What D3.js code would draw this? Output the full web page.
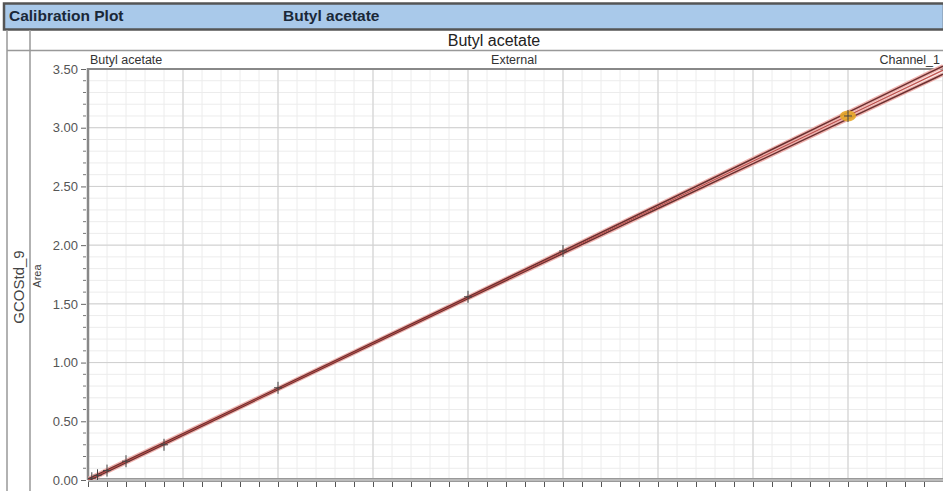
<!DOCTYPE html>
<html><head><meta charset="utf-8">
<script src="https://cdn.jsdelivr.net/npm/d3@7"></script>
<style>body{margin:0;background:#fff;}svg{display:block;font-family:"Liberation Sans",Arial,sans-serif;}</style>
</head><body>
<script>
// ---- data ----
const calX = [0.02, 0.05, 0.1, 0.2, 0.4, 1.0, 2.0, 2.5, 4.0];
const calArea = [0.015, 0.04, 0.08, 0.16, 0.30, 0.785, 1.56, 1.95, 3.10];
const highlightIndex = [8];
const fitX = [0, 4.5];
const fitArea = [0.0, 3.49];
const bandX = [0, 1.0, 2.0, 3.0, 4.0, 4.5];
const bandUpper = [0.008, 0.781, 1.558, 2.342, 3.131, 3.525];
const bandLower = [-0.008, 0.771, 1.546, 2.312, 3.075, 3.455];
const yTicks = [0, 0.5, 1.0, 1.5, 2.0, 2.5, 3.0, 3.5];
const bannerLabels = ["Calibration Plot", "Butyl acetate"];
const plotTitle = "Butyl acetate";
const headerLabels = ["Butyl acetate", "External", "Channel_1"];
const sideLabels = ["GCOStd_9", "Area"];

(function () {
const W = 943, H = 491;
const svg = d3.select("body").append("svg").attr("width", W).attr("height", H);

// banner
svg.append("rect").attr("x", 4).attr("y", 3.5).attr("width", W - 3).attr("height", 26)
  .attr("fill", "#a9c9ea").attr("stroke", "#555").attr("stroke-width", 2.5);
svg.append("text").attr("x", 9).attr("y", 21).attr("font-size", 15.5).attr("font-weight", "bold")
  .attr("fill", "#1a2838").text(bannerLabels[0]);
svg.append("text").attr("x", 283).attr("y", 21).attr("font-size", 15.5).attr("font-weight", "bold")
  .attr("fill", "#1a2838").text(bannerLabels[1]);

// table lines
svg.append("line").attr("x1", 7).attr("x2", 7).attr("y1", 30).attr("y2", H).attr("stroke", "#999").attr("stroke-width", 1.5);
svg.append("line").attr("x1", 30).attr("x2", 30).attr("y1", 30).attr("y2", H).attr("stroke", "#999").attr("stroke-width", 1.5);
svg.append("line").attr("x1", 7).attr("x2", W).attr("y1", 50.5).attr("y2", 50.5).attr("stroke", "#999").attr("stroke-width", 1.5);
svg.append("text").attr("x", 494).attr("y", 46).attr("text-anchor", "middle").attr("font-size", 16)
  .attr("fill", "#222").text(plotTitle);

// scales
const pL = 88, pT = 69, pB = 480;
const x = d3.scaleLinear().domain([0, 4.5]).range([pL, 943]);
const y = d3.scaleLinear().domain([0, 3.5]).range([pB, pT]);

const g = svg.append("g");
// minor grid
const minorX = d3.range(0, 45.01, 1).map(d => d / 10);
const minorY = d3.range(0, 35.01, 1).map(d => d / 10);
g.append("g").selectAll("line").data(minorX).join("line")
  .attr("x1", d => x(d)).attr("x2", d => x(d)).attr("y1", pT).attr("y2", pB)
  .attr("stroke", "#ececec").attr("stroke-width", 1);
g.append("g").selectAll("line").data(minorY).join("line")
  .attr("y1", d => y(d)).attr("y2", d => y(d)).attr("x1", pL).attr("x2", W)
  .attr("stroke", "#ececec").attr("stroke-width", 1);
// major grid
const majorX = d3.range(0, 4.51, 0.5);
g.append("g").selectAll("line").data(majorX).join("line")
  .attr("x1", d => x(d)).attr("x2", d => x(d)).attr("y1", pT).attr("y2", pB)
  .attr("stroke", "#cfcfcf").attr("stroke-width", 1);
g.append("g").selectAll("line").data(yTicks).join("line")
  .attr("y1", d => y(d)).attr("y2", d => y(d)).attr("x1", pL).attr("x2", W)
  .attr("stroke", "#cfcfcf").attr("stroke-width", 1);

// plot borders
svg.append("line").attr("x1", pL).attr("x2", W).attr("y1", pT).attr("y2", pT).attr("stroke", "#888").attr("stroke-width", 2);
svg.append("line").attr("x1", pL).attr("x2", pL).attr("y1", pT - 1).attr("y2", pB).attr("stroke", "#888").attr("stroke-width", 2.5);

// y axis
const yAxis = d3.axisLeft(y).tickValues(yTicks).tickFormat(d3.format(".2f")).tickSize(5).tickPadding(3);
const ya = svg.append("g").attr("transform", `translate(${pL - 2},0)`).call(yAxis);
ya.select(".domain").remove();
ya.selectAll("line").attr("stroke", "#666");
ya.selectAll("text").attr("font-size", 13).attr("fill", "#555").attr("font-family", "Liberation Sans, Arial, sans-serif");
svg.append("g").selectAll("line").data(minorY.filter(d => Math.round(d * 10) % 5 !== 0)).join("line")
  .attr("x1", pL - 5).attr("x2", pL - 2).attr("y1", d => y(d)).attr("y2", d => y(d)).attr("stroke", "#777");

// x axis (bottom)
svg.append("line").attr("x1", pL).attr("x2", W).attr("y1", pB).attr("y2", pB).attr("stroke", "#999").attr("stroke-width", 4);
svg.append("line").attr("x1", pL).attr("x2", W).attr("y1", pB).attr("y2", pB).attr("stroke", "#ddd").attr("stroke-width", 1);
const xAxis = d3.axisBottom(x).tickValues(d3.range(0, 4.51, 0.1)).tickSize(5).tickFormat("");
const xa = svg.append("g").attr("transform", `translate(0,${pB + 2})`).call(xAxis);
xa.select(".domain").remove();
xa.selectAll("line").attr("stroke", "#555");

// header labels
svg.append("text").attr("x", 90).attr("y", 64).attr("font-size", 12.5).attr("fill", "#333").text(headerLabels[0]);
svg.append("text").attr("x", 514).attr("y", 64).attr("text-anchor", "middle").attr("font-size", 12.5).attr("fill", "#333").text(headerLabels[1]);
svg.append("text").attr("x", 940).attr("y", 64).attr("text-anchor", "end").attr("font-size", 12.5).attr("fill", "#333").text(headerLabels[2]);

// side labels
svg.append("text").attr("transform", "translate(24,287) rotate(-90)").attr("text-anchor", "middle")
  .attr("font-size", 15).attr("fill", "#444").text(sideLabels[0]);
svg.append("text").attr("transform", "translate(41,276) rotate(-90)").attr("text-anchor", "middle")
  .attr("font-size", 11).attr("fill", "#444").text(sideLabels[1]);

// lines
svg.append("clipPath").attr("id", "clip").append("rect")
  .attr("x", pL).attr("y", pT - 14).attr("width", W - pL).attr("height", pB - pT + 14);
const lg = svg.append("g").attr("clip-path", "url(#clip)");
const bandLine = d3.line().x(d => x(d[0])).y(d => y(d[1])).curve(d3.curveMonotoneX);
const up = bandX.map((d, i) => [d, bandUpper[i]]);
const lo = bandX.map((d, i) => [d, bandLower[i]]);
const fit = fitX.map((d, i) => [d, fitArea[i]]);
[up, lo].forEach(p => {
  lg.append("path").attr("d", bandLine(p)).attr("fill", "none").attr("stroke", "#efb2ae").attr("stroke-width", 4);
});
lg.append("path").attr("d", bandLine(fit)).attr("fill", "none").attr("stroke", "#e8a8a4").attr("stroke-width", 2);
[up, lo].forEach(p => {
  lg.append("path").attr("d", bandLine(p)).attr("fill", "none").attr("stroke", "#6a3030").attr("stroke-width", 1.5);
});
lg.append("path").attr("d", bandLine(fit)).attr("fill", "none").attr("stroke", "#b84a46").attr("stroke-width", 1);

// highlighted point
const pts = calX.map((d, i) => ({x: d, a: calArea[i], hl: highlightIndex.includes(i)}));
lg.append("g").selectAll("ellipse").data(pts.filter(p => p.hl)).join("ellipse")
  .attr("cx", p => x(p.x)).attr("cy", p => y(p.a)).attr("rx", 8).attr("ry", 5.5)
  .attr("fill", "#e6a82a").attr("opacity", 0.9);
// cross markers
const mk = lg.append("g").selectAll("g").data(pts).join("g").attr("transform", p => `translate(${x(p.x)},${y(p.a)})`);
mk.append("line").attr("x1", 0).attr("x2", 0).attr("y1", -6).attr("y2", 6).attr("stroke", "#444").attr("stroke-width", 1);
mk.append("line").attr("x1", -4).attr("x2", 4).attr("y1", 0).attr("y2", 0).attr("stroke", "#444").attr("stroke-width", 1);
})();
</script>
</body></html>
